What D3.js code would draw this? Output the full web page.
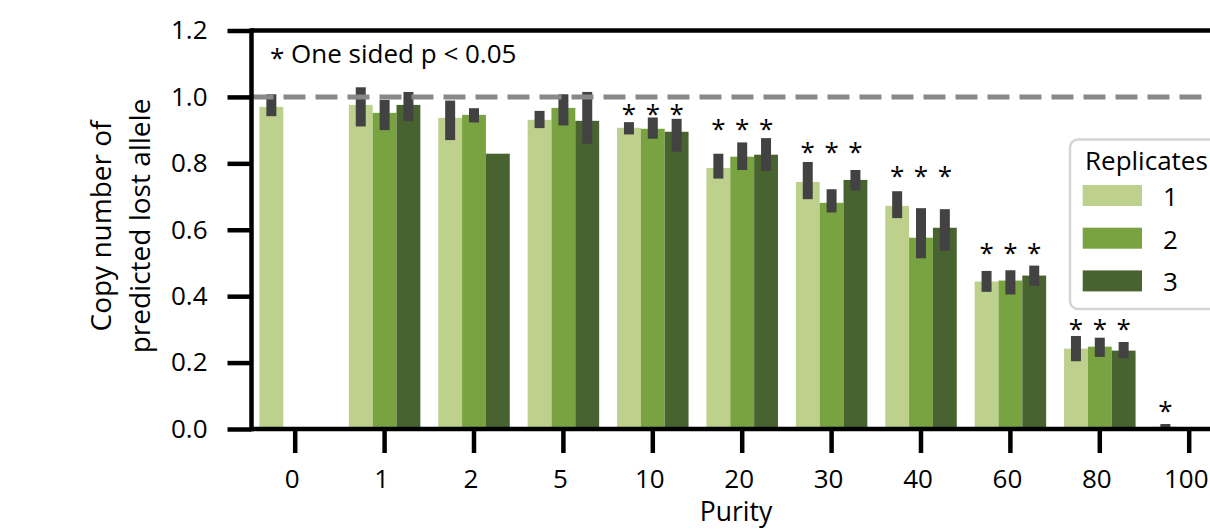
<!DOCTYPE html>
<html>
<head>
<meta charset="utf-8">
<script src="https://cdn.jsdelivr.net/npm/d3@7"></script>
<style>
  body { margin: 0; background: #fff; }
  svg { display: block; font-family: "Open Sans", sans-serif; }
</style>
</head>
<body>
<script>
// categories on the x axis and the hue levels
var purity = ["0", "1", "2", "5", "10", "20", "30", "40", "60", "80", "100"];
var replicates = ["1", "2", "3"];

// bar heights (mean) and error bar ends per replicate
var rep1Mean = [0.970, 0.976, 0.937, 0.931, 0.907, 0.786, 0.744, 0.672, 0.444, 0.242, 0.007];
var rep1Low  = [0.942, 0.911, 0.870, 0.906, 0.887, 0.754, 0.692, 0.635, 0.413, 0.204, 0.000];
var rep1High = [1.008, 1.029, 0.989, 0.958, 0.924, 0.829, 0.804, 0.716, 0.476, 0.280, 0.015];

var rep2Mean = [null, 0.952, 0.946, 0.967, 0.904, 0.820, 0.681, 0.576, 0.447, 0.248, null];
var rep2Low  = [null, 0.900, 0.923, 0.914, 0.874, 0.780, 0.652, 0.514, 0.405, 0.217, null];
var rep2High = [null, 0.991, 0.966, 1.008, 0.938, 0.863, 0.722, 0.665, 0.478, 0.275, null];

var rep3Mean = [null, 0.976, 0.829, 0.928, 0.895, 0.826, 0.750, 0.606, 0.462, 0.236, null];
var rep3Low  = [null, 0.927, null, 0.859, 0.835, 0.777, 0.718, 0.537, 0.431, 0.213, null];
var rep3High = [null, 1.015, null, 1.015, 0.934, 0.876, 0.780, 0.662, 0.492, 0.262, null];

// height of the significance stars in each group (null = not significant)
var starLevel = [null, null, null, null, 0.964, 0.921, 0.851, 0.778, 0.547, 0.318, 0.072];

var yTicks = [0, 0.2, 0.4, 0.6, 0.8, 1.0, 1.2];
var refLine = 1.0;

var colors = ["#bdd18d", "#79a340", "#48632f"];
var errColor = "#424242";

var width = 1210, height = 531;
var mLeft = 251.5, mTop = 30.5, mBottom = 429;
var lw = 4.5;
var fs = 26;

var svg = d3.select("body").append("svg")
    .attr("width", width)
    .attr("height", height);

svg.append("rect").attr("width", width).attr("height", height).attr("fill", "#fff");

var x = d3.scaleBand().domain(purity).range([250.5, 1233.9]).padding(0);
var x1 = d3.scaleBand().domain(replicates).range([-0.4 * x.step(), 0.4 * x.step()]);
var y = d3.scaleLinear().domain([0, 1.2]).range([mBottom, mTop]);

// flatten into rows
var means = [rep1Mean, rep2Mean, rep3Mean],
    lows = [rep1Low, rep2Low, rep3Low],
    highs = [rep1High, rep2High, rep3High];
var rows = [];
purity.forEach(function(p, i) {
  replicates.forEach(function(r, j) {
    if (means[j][i] == null) return;
    rows.push({ purity: p, rep: r, j: j, mean: means[j][i], low: lows[j][i], high: highs[j][i], star: starLevel[i] });
  });
});
function cx(d) { return x(d.purity) + x.step() / 2 + x1(d.rep) + x1.bandwidth() / 2; }

var plot = svg.append("g");

plot.selectAll("rect.bar")
    .data(rows)
  .enter().append("rect")
    .attr("class", "bar")
    .attr("x", function(d) { return x(d.purity) + x.step() / 2 + x1(d.rep); })
    .attr("width", x1.bandwidth())
    .attr("y", function(d) { return y(d.mean); })
    .attr("height", function(d) { return y(0) - y(d.mean); })
    .attr("fill", function(d) { return colors[d.j]; });

plot.selectAll("line.err")
    .data(rows.filter(function(d) { return d.low != null; }))
  .enter().append("line")
    .attr("class", "err")
    .attr("x1", cx).attr("x2", cx)
    .attr("y1", function(d) { return y(d.low); })
    .attr("y2", function(d) { return y(d.high); })
    .attr("stroke", errColor)
    .attr("stroke-width", 10);

// reference line at 1
plot.append("line")
    .attr("x1", mLeft).attr("x2", width)
    .attr("y1", y(refLine)).attr("y2", y(refLine))
    .attr("stroke", "#888")
    .attr("stroke-width", 5)
    .attr("stroke-dasharray", "22,10");

// significance stars
plot.selectAll("text.star")
    .data(rows.filter(function(d) { return d.star != null; }))
  .enter().append("text")
    .attr("class", "star")
    .attr("x", cx)
    .attr("y", function(d) { return y(d.star) + 14.5; })
    .attr("text-anchor", "middle")
    .style("font-size", fs + "px")
    .text("*");

// axes
var yAxis = d3.axisLeft(y).tickValues(yTicks).tickFormat(d3.format(".1f"))
    .tickSize(24).tickSizeOuter(0).tickPadding(20);
var gy = svg.append("g").attr("transform", "translate(" + mLeft + ",0)").call(yAxis);

var xAxis = d3.axisBottom(x).tickSize(24).tickSizeOuter(0).tickPadding(16.5);
var gx = svg.append("g").attr("transform", "translate(0," + mBottom + ")").call(xAxis);

[gx, gy].forEach(function(g) {
  g.select(".domain").remove();
  g.selectAll(".tick line").attr("stroke", "#000").attr("stroke-width", lw);
  g.selectAll(".tick text").attr("fill", "#000").style("font-size", fs + "px")
    .style("font-family", "'Open Sans', sans-serif");
});
gx.selectAll(".tick text").attr("dx", -3);

// spines
svg.append("line").attr("x1", mLeft).attr("x2", mLeft).attr("y1", mTop - lw / 2).attr("y2", mBottom + lw / 2)
    .attr("stroke", "#000").attr("stroke-width", lw);
svg.append("line").attr("x1", mLeft).attr("x2", width).attr("y1", mTop).attr("y2", mTop)
    .attr("stroke", "#000").attr("stroke-width", lw);
svg.append("line").attr("x1", mLeft).attr("x2", width).attr("y1", mBottom).attr("y2", mBottom)
    .attr("stroke", "#000").attr("stroke-width", lw);

// axis labels
svg.append("text")
    .attr("x", 736).attr("y", 521)
    .attr("text-anchor", "middle")
    .style("font-size", "26.5px")
    .text("Purity");

var ylab = svg.append("text")
    .attr("transform", "rotate(-90)")
    .attr("text-anchor", "middle")
    .style("font-size", "28px");
ylab.append("tspan").attr("x", -226).attr("y", 111).text("Copy number of");
ylab.append("tspan").attr("x", -226).attr("y", 150).text("predicted lost allele");

// note
var note = svg.append("text")
    .attr("x", 270).attr("y", 63)
    .style("font-size", fs + "px");
note.append("tspan").attr("dy", 4).text("*");
note.append("tspan").attr("dy", -4).text(" One sided p < 0.05");

// legend
var leg = svg.append("g");
leg.append("rect")
    .attr("x", 1070).attr("y", 139.5)
    .attr("width", 200).attr("height", 169.5)
    .attr("rx", 8)
    .attr("fill", "#fff")
    .attr("stroke", "#d4d4d4")
    .attr("stroke-width", 2.5);
leg.append("text")
    .attr("x", 1085).attr("y", 170)
    .style("font-size", fs + "px")
    .text("Replicates");
var items = leg.selectAll("g.item")
    .data(replicates)
  .enter().append("g")
    .attr("class", "item")
    .attr("transform", function(d, i) { return "translate(0," + (185 + i * 42.7) + ")"; });
items.append("rect")
    .attr("x", 1082.7).attr("width", 59.3)
    .attr("height", 21)
    .attr("fill", function(d, i) { return colors[i]; });
items.append("text")
    .attr("x", 1163).attr("y", 21)
    .style("font-size", fs + "px")
    .text(function(d) { return d; });
</script>
</body>
</html>
